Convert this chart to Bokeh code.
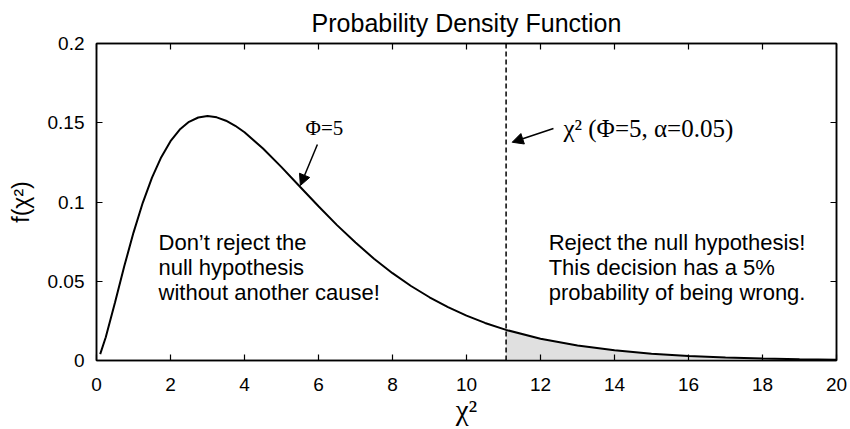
from bokeh.plotting import figure
from bokeh.models import (Range1d, FixedTicker, LinearAxis, Span, Arrow, NormalHead,
                          ColumnDataSource, CustomJSTickFormatter)
from bokeh.core.properties import value
from bokeh.embed import file_html
from bokeh.resources import INLINE

# ---- data ----
chi2_x = [0.1, 0.25, 0.5, 0.75, 1.0, 1.25, 1.5, 1.75, 2.0, 2.25, 2.5, 2.75, 3.0, 3.25,
          3.5, 3.75, 4.0, 4.5, 5.0, 5.5, 6.0, 6.5, 7.0, 7.5, 8.0, 8.5, 9.0, 9.5, 10.0,
          10.5, 11.07, 12.0, 13.0, 14.0, 15.0, 16.0, 17.0, 18.0, 19.0, 20.0]
density = [0.0040, 0.0147, 0.0366, 0.0594, 0.0807, 0.0995, 0.1154, 0.1283, 0.1384,
           0.1457, 0.1506, 0.1533, 0.1542, 0.1534, 0.1513, 0.1481, 0.1440, 0.1338,
           0.1220, 0.1096, 0.0973, 0.0854, 0.0744, 0.0642, 0.0551, 0.0470, 0.0399,
           0.0337, 0.0283, 0.0237, 0.0193, 0.0137, 0.0094, 0.0064, 0.0043, 0.0029,
           0.0019, 0.0013, 0.0008, 0.0005]
chi2_critical = 11.07

x_ticks = [0, 2, 4, 6, 8, 10, 12, 14, 16, 18, 20]
x_tick_labels = ["0", "2", "4", "6", "8", "10", "12", "14", "16", "18", "20"]
y_ticks = [0, 0.05, 0.1, 0.15, 0.2]
y_tick_labels = ["0", "0.05", "0.1", "0.15", "0.2"]

title_text = "Probability Density Function"
x_label = "χ²"
y_label = "f(χ²)"
curve_label = "Φ=5"
critical_label = "χ² (Φ=5, α=0.05)"
accept_lines = ["Don’t reject the", "null hypothesis", "without another cause!"]
reject_lines = ["Reject the null hypothesis!", "This decision has a 5%",
                "probability of being wrong."]

SANS = "Liberation Sans"
SERIF = "Liberation Serif"

p = figure(frame_width=740, frame_height=317,
           x_range=Range1d(0, 20), y_range=Range1d(0, 0.2),
           output_backend="svg", toolbar_location=None,
           min_border_left=96, min_border_right=12, min_border_top=42, min_border_bottom=62,
           background_fill_color="white", border_fill_color="white")

p.title.text = title_text
p.title.align = "center"
p.title.text_font = SANS
p.title.text_font_size = "25px"
p.title.text_font_style = "normal"
p.title.text_color = "black"
p.title.standoff = 13

p.xgrid.visible = False
p.ygrid.visible = False
p.outline_line_color = "black"
p.outline_line_width = 1.5

def style_axis(ax):
    ax.axis_line_color = "black"
    ax.axis_line_width = 1.5
    ax.major_tick_line_color = "black"
    ax.major_tick_line_width = 1.2
    ax.major_tick_in = 6
    ax.major_tick_out = 0
    ax.minor_tick_line_color = None
    ax.major_label_text_font = SANS
    ax.major_label_text_font_size = "19px"
    ax.major_label_text_color = "black"

style_axis(p.xaxis[0])
p.xaxis[0].ticker = FixedTicker(ticks=x_ticks)
p.xaxis[0].major_label_overrides = dict(zip(x_ticks, x_tick_labels))
p.xaxis[0].major_label_standoff = 17
p.xaxis[0].axis_label = x_label
p.xaxis[0].axis_label_text_font = SERIF
p.xaxis[0].axis_label_text_font_size = "29px"
p.xaxis[0].axis_label_text_font_style = "normal"
p.xaxis[0].axis_label_text_color = "black"
p.xaxis[0].axis_label_standoff = 0

style_axis(p.yaxis[0])
p.yaxis[0].ticker = FixedTicker(ticks=y_ticks)
p.yaxis[0].major_label_overrides = dict(zip(y_ticks, y_tick_labels))
p.yaxis[0].major_label_standoff = 12
p.yaxis[0].axis_label = y_label
p.yaxis[0].axis_label_text_font = SANS
p.yaxis[0].axis_label_text_font_size = "23px"
p.yaxis[0].axis_label_text_font_style = "normal"
p.yaxis[0].axis_label_text_color = "black"
p.yaxis[0].axis_label_standoff = 11

# mirror ticks on top and right
blank = CustomJSTickFormatter(code="return ''")
top_ax = LinearAxis(ticker=FixedTicker(ticks=x_ticks), formatter=blank)
right_ax = LinearAxis(ticker=FixedTicker(ticks=y_ticks), formatter=blank)
for ax in (top_ax, right_ax):
    style_axis(ax)
    ax.major_label_standoff = 0
    ax.major_label_text_font_size = "0px"
p.add_layout(top_ax, "above")
p.add_layout(right_ax, "right")

# shaded rejection region
shade_x = [x for x in chi2_x if x >= chi2_critical]
shade_y = [y for x, y in zip(chi2_x, density) if x >= chi2_critical]
p.varea(x=shade_x, y1=[0] * len(shade_x), y2=shade_y, fill_color="#e0e0e0")

# critical value line
p.add_layout(Span(location=chi2_critical, dimension="height", line_color="black",
                  line_width=1.5, line_dash="5 3"))

# density curve
p.line(chi2_x, density, line_color="black", line_width=2)

# annotations
p.text(x=[5.65], y=[0.1464], text=[curve_label], text_font=value(SERIF),
       text_font_size=value("21px"), text_baseline="middle", text_align="left",
       text_color="black")
p.add_layout(Arrow(end=NormalHead(size=11, fill_color="black", line_color="black"),
                   x_start=5.97, y_start=0.1363, x_end=5.51, y_end=0.1104,
                   line_color="black", line_width=1.5))

p.text(x=[12.62], y=[0.1464], text=[critical_label], text_font=value(SERIF),
       text_font_size=value("25px"), text_baseline="middle", text_align="left",
       text_color="black")
p.add_layout(Arrow(end=NormalHead(size=11, fill_color="black", line_color="black"),
                   x_start=12.35, y_start=0.1464, x_end=11.235, y_end=0.1377,
                   line_color="black", line_width=1.5))

# region explanations, one text per line
line_top = 0.0744
line_step = 0.0158
n = len(accept_lines)
src = ColumnDataSource(dict(
    x=[1.676] * n + [12.22] * n,
    y=[line_top - i * line_step for i in range(n)] * 2,
    t=accept_lines + reject_lines))
p.text(x="x", y="y", text="t", source=src, text_font=value(SANS),
       text_font_size=value("22px"), text_baseline="middle", text_align="left",
       text_color="black")

open("out.html", "w").write(file_html(p, INLINE))
